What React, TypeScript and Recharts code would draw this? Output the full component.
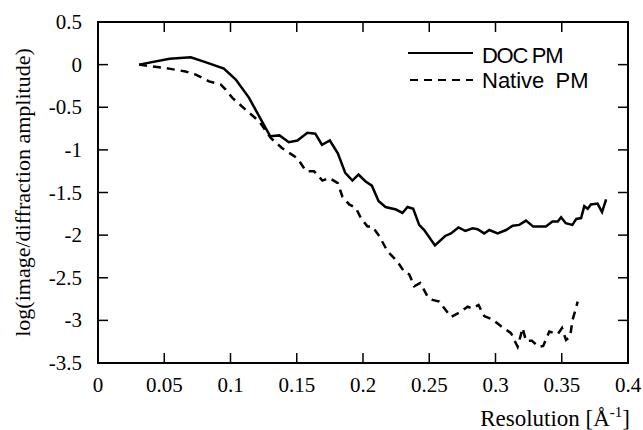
import React from "react";
import { LineChart, Line, XAxis, YAxis, Legend, Label } from "recharts";

const docX = [0.031, 0.054, 0.07, 0.081, 0.095, 0.104, 0.114, 0.123, 0.13, 0.137, 0.144, 0.1505, 0.158, 0.164, 0.169, 0.175, 0.181, 0.1866, 0.192, 0.1966, 0.202, 0.2067, 0.2117, 0.217, 0.2249, 0.2298, 0.2336, 0.2379, 0.2424, 0.2462, 0.2543, 0.262, 0.2664, 0.272, 0.2772, 0.2827, 0.2865, 0.2915, 0.2953, 0.3016, 0.308, 0.313, 0.318, 0.323, 0.3285, 0.338, 0.343, 0.347, 0.3495, 0.353, 0.358, 0.361, 0.3646, 0.367, 0.3696, 0.372, 0.377, 0.3804, 0.3835];
const docY = [0, 0.07, 0.086, 0.03, -0.047, -0.176, -0.39, -0.645, -0.84, -0.83, -0.91, -0.89, -0.8, -0.81, -0.94, -0.89, -1.04, -1.27, -1.36, -1.29, -1.37, -1.42, -1.6, -1.67, -1.7, -1.74, -1.67, -1.69, -1.88, -1.94, -2.12, -2.01, -1.98, -1.91, -1.95, -1.92, -1.93, -1.98, -1.94, -1.98, -1.94, -1.89, -1.88, -1.83, -1.9, -1.9, -1.84, -1.84, -1.79, -1.86, -1.88, -1.81, -1.8, -1.66, -1.69, -1.64, -1.63, -1.73, -1.58];

const nativeX = [0.031, 0.041, 0.0536, 0.066, 0.0738, 0.0838, 0.0927, 0.0964, 0.1014, 0.1115, 0.1216, 0.1304, 0.139, 0.1506, 0.157, 0.163, 0.1694, 0.1745, 0.181, 0.1845, 0.1896, 0.1946, 0.1984, 0.2034, 0.2072, 0.2122, 0.2185, 0.226, 0.2311, 0.2349, 0.2387, 0.2432, 0.2487, 0.2525, 0.2576, 0.2664, 0.2727, 0.279, 0.2822, 0.2872, 0.2915, 0.2978, 0.3042, 0.3117, 0.3167, 0.3205, 0.323, 0.3275, 0.3326, 0.336, 0.3406, 0.3444, 0.347, 0.3502, 0.3532, 0.3563, 0.3582, 0.3603, 0.362];
const nativeY = [0, -0.02, -0.047, -0.08, -0.117, -0.196, -0.235, -0.293, -0.39, -0.53, -0.665, -0.86, -0.98, -1.1, -1.25, -1.25, -1.36, -1.33, -1.39, -1.55, -1.64, -1.68, -1.8, -1.9, -1.9, -2.01, -2.19, -2.31, -2.43, -2.46, -2.6, -2.56, -2.72, -2.76, -2.78, -2.96, -2.91, -2.84, -2.86, -2.82, -2.95, -2.99, -3.07, -3.15, -3.31, -3.09, -3.24, -3.24, -3.31, -3.3, -3.13, -3.15, -3.16, -3.09, -3.23, -3.19, -2.99, -2.88, -2.78];

const xTicks = [0, 0.05, 0.1, 0.15, 0.2, 0.25, 0.3, 0.35, 0.4];
const yTicks = [0.5, 0, -0.5, -1, -1.5, -2, -2.5, -3, -3.5];
const seriesNames = ["DOC PM", "Native PM"];
const xTitle = "Resolution [Å";
const yTitle = "log(image/diffraction amplitude)";

const docData = docX.map((x, i) => ({ x, y: docY[i] }));
const nativeData = nativeX.map((x, i) => ({ x, y: nativeY[i] }));

const SERIF = "Liberation Serif";
const SANS = "Liberation Sans";

const CHART_W = 643;
const CHART_H = 430;
const MARGIN = { top: 22, right: 15, bottom: 0, left: 0 };
const X_AXIS_H = 67;
const Y_AXIS_W = 98;
const PLOT_X = Y_AXIS_W + MARGIN.left;
const PLOT_Y = MARGIN.top;
const PLOT_W = CHART_W - PLOT_X - MARGIN.right;
const PLOT_H = CHART_H - PLOT_Y - X_AXIS_H;

const TICK_LEN = 10;
const X_GAP = 14;
const Y_GAP = 16;

const XTick = (props: any) => {
  const { x, y, payload } = props;
  return (
    <text x={x} y={y} dy={15} textAnchor="middle" fontFamily={SERIF} fontSize={21} fill="#000">
      {String(payload.value)}
    </text>
  );
};

const YTick = (props: any) => {
  const { x, y, payload } = props;
  return (
    <text x={x} y={y} dy={7} textAnchor="end" fontFamily={SERIF} fontSize={21} fill="#000">
      {String(payload.value)}
    </text>
  );
};

// Plot frame with inward tick marks on all four sides (evenly spaced like the axis ticks)
const Frame = () => {
  const nx = xTicks.length - 1;
  const ny = yTicks.length - 1;
  return (
    <svg width={CHART_W} height={CHART_H} style={{ position: "absolute", left: 0, top: 0, pointerEvents: "none" }}>
      <rect x={PLOT_X} y={PLOT_Y} width={PLOT_W} height={PLOT_H} fill="none" stroke="#000" strokeWidth={2} />
      {xTicks.map((t, i) => {
        const px = PLOT_X + (PLOT_W * i) / nx;
        return (
          <g key={`x${i}`}>
            <line x1={px} y1={PLOT_Y + PLOT_H} x2={px} y2={PLOT_Y + PLOT_H - TICK_LEN} stroke="#000" strokeWidth={1.5} />
            <line x1={px} y1={PLOT_Y} x2={px} y2={PLOT_Y + TICK_LEN} stroke="#000" strokeWidth={1.5} />
          </g>
        );
      })}
      {yTicks.map((t, i) => {
        const py = PLOT_Y + (PLOT_H * i) / ny;
        return (
          <g key={`y${i}`}>
            <line x1={PLOT_X} y1={py} x2={PLOT_X + TICK_LEN} y2={py} stroke="#000" strokeWidth={1.5} />
            <line x1={PLOT_X + PLOT_W} y1={py} x2={PLOT_X + PLOT_W - TICK_LEN} y2={py} stroke="#000" strokeWidth={1.5} />
          </g>
        );
      })}
    </svg>
  );
};

const renderLegend = () => (
  <svg width={200} height={60} style={{ display: "block" }}>
    <line x1={8} y1={15} x2={73} y2={15} stroke="#000" strokeWidth={2} />
    <line x1={10} y1={42} x2={73} y2={42} stroke="#000" strokeWidth={2} strokeDasharray="8 6" />
    <text x={82} y={25} fontFamily={SANS} fontSize={22} letterSpacing={-1.3} fill="#000">{seriesNames[0]}</text>
    <text x={82} y={50} fontFamily={SANS} fontSize={22} wordSpacing={5} fill="#000">{seriesNames[1]}</text>
  </svg>
);

const XTitle = (props: any) => {
  const vb = props.viewBox || {};
  const x = vb.x + vb.width + 2;
  const y = vb.y + vb.height - 4;
  return (
    <text x={x} y={y} textAnchor="end" fontFamily={SERIF} fontSize={23} fill="#000">
      {xTitle}
      <tspan dy={-9} fontSize={15}>-1</tspan>
      <tspan dy={9}>]</tspan>
    </text>
  );
};

const YTitle = (props: any) => {
  const vb = props.viewBox || {};
  const cx = vb.x + 22;
  const cy = vb.y + vb.height / 2;
  return (
    <text x={cx} y={cy} textAnchor="middle" dominantBaseline="central" transform={`rotate(-90, ${cx}, ${cy})`} fontFamily={SERIF} fontSize={22} fill="#000">
      {yTitle}
    </text>
  );
};

export default function App() {
  return (
    <div style={{ position: "absolute", left: 0, top: 0, width: CHART_W, height: CHART_H }}>
      <LineChart width={CHART_W} height={CHART_H} margin={MARGIN}>
        <XAxis
          dataKey="x"
          type="number"
          domain={[0, 0.4]}
          ticks={xTicks}
          height={X_AXIS_H}
          stroke="#000"
          strokeWidth={2}
          tickLine={false}
          tickSize={0}
          tickMargin={X_GAP}
          tick={<XTick />}
          interval={0}
        >
          <Label content={<XTitle />} />
        </XAxis>
        <YAxis
          type="number"
          domain={[-3.5, 0.5]}
          ticks={yTicks}
          width={Y_AXIS_W}
          stroke="#000"
          strokeWidth={2}
          tickLine={false}
          tickSize={0}
          tickMargin={Y_GAP}
          tick={<YTick />}
          interval={0}
        >
          <Label content={<YTitle />} />
        </YAxis>
        <Legend
          content={renderLegend}
          layout="horizontal"
          verticalAlign="middle"
          align="center"
          wrapperStyle={{ position: "absolute", left: 400, top: 38, width: 200, height: 60 }}
        />
        <Line
          data={docData}
          dataKey="y"
          type="linear"
          stroke="#000"
          strokeWidth={2.5}
          dot={false}
          isAnimationActive={false}
        />
        <Line
          data={nativeData}
          dataKey="y"
          type="linear"
          stroke="#000"
          strokeWidth={2.5}
          strokeDasharray="8 6"
          dot={false}
          isAnimationActive={false}
        />
      </LineChart>
      <Frame />
    </div>
  );
}
